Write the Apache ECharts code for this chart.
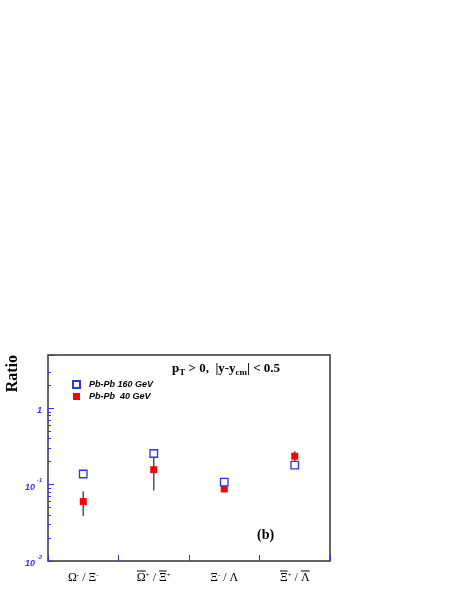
<!DOCTYPE html>
<html><head><meta charset="utf-8">
<script src="https://cdn.jsdelivr.net/npm/echarts@6/dist/echarts.min.js"></script>
<style>html,body{margin:0;padding:0;background:#fff}#c{width:468px;height:605px}</style>
</head><body><div id="c"></div>
<script>
// Category names: U+0305 = overline (antiparticle bar) on the preceding letter
const categories = ['Ω⁻ / Ξ⁻', 'Ω\u0305⁺ / Ξ\u0305⁺', 'Ξ⁻ / Λ', 'Ξ\u0305⁺ / Λ\u0305'];
const pb160 = [0.138, 0.256, 0.108, 0.180];
const pb40 = [0.060, 0.157, 0.088, 0.236];
const pb40Low = [0.039, 0.084, 0.083, 0.200];
const pb40High = [0.082, 0.230, 0.093, 0.275];
const yMin = 0.01, yMax = 5;
const minorTickValues = [0.02,0.03,0.04,0.05,0.06,0.07,0.08,0.09,0.2,0.3,0.4,0.5,0.6,0.7,0.8,0.9,2,3];

const BLUE = '#3030f0';
const LABEL_FONT = 12, SUP_FONT = 7, SERIF = 'Liberation Serif';

// Build rich-text category labels: superscripts raised, overlines drawn as thin bars on a line above
const mctx = document.createElement('canvas').getContext('2d');
function textWidth(t, size) { mctx.font = size + 'px "' + SERIF + '"'; return mctx.measureText(t).width; }
const labelRich = {
  g: {fontFamily: SERIF, fontSize: LABEL_FONT, color: '#000', lineHeight: 12, align: 'center'},
  s: {fontFamily: SERIF, fontSize: SUP_FONT, color: '#000', lineHeight: 12, verticalAlign: 'top', align: 'center'}
};
const labelText = {};
categories.forEach(function (cat, ci) {
  const units = [];
  Array.from(cat).forEach(function (c) {
    if (c === '\u0305') { units[units.length - 1].over = true; return; }
    if (c === '⁺' || c === '⁻') units.push({t: c === '⁺' ? '+' : '-', sup: true, over: false});
    else units.push({t: c, sup: false, over: false});
  });
  units.forEach(function (u) { u.w = textWidth(u.t, u.sup ? SUP_FONT : LABEL_FONT); });
  let line2 = '';
  let k = 0;
  while (k < units.length) {
    const sup = units[k].sup; let s = '';
    while (k < units.length && units[k].sup === sup) { s += units[k].t; k++; }
    line2 += '{' + (sup ? 's' : 'g') + '|' + s + '}';
  }
  let line1 = ''; k = 0; let n = 0;
  while (k < units.length) {
    const over = units[k].over; let w = 0;
    while (k < units.length && units[k].over === over) { w += units[k].w; k++; }
    const name = 'o' + ci + '_' + (n++);
    labelRich[name] = over
      ? {width: w, height: 1, lineHeight: 2, backgroundColor: '#000', align: 'center'}
      : {width: w, height: 1, lineHeight: 2, align: 'center'};
    line1 += '{' + name + '| }';
  }
  labelText[cat] = line1 + '\n' + line2;
});

const chart = echarts.init(document.getElementById('c'), null, {renderer: 'canvas'});
chart.setOption({
  animation: false,
  backgroundColor: '#fff',
  grid: {left: 48, right: 138, top: 355, bottom: 44, show: true, borderColor: '#333', borderWidth: 1.5, backgroundColor: 'transparent'},
  title: [
    {text: '{a|p}{s|T}{a| > 0,  |y-y}{s|cm}{a|| < 0.5}', left: 167, top: 356,
     textStyle: {rich: {
       a: {fontFamily: SERIF, fontWeight: 'bold', fontSize: 13, color: '#000', lineHeight: 16, verticalAlign: 'middle'},
       s: {fontFamily: SERIF, fontWeight: 'bold', fontSize: 9, color: '#000', lineHeight: 16, verticalAlign: 'bottom'}
     }}},
    {text: '(b)', left: 252, top: 522, textStyle: {fontFamily: SERIF, fontWeight: 'bold', fontSize: 14, lineHeight: 16, color: '#000'}}
  ],
  graphic: [{type: 'text', left: 5, top: 355, rotation: Math.PI / 2,
    style: {text: 'Ratio', font: 'bold 16px "Liberation Serif"', fill: '#000'}}],
  legend: {
    data: ['Pb-Pb 160 GeV', 'Pb-Pb  40 GeV'], orient: 'vertical', left: 67, top: 375,
    itemWidth: 7, itemHeight: 7, itemGap: 3,
    textStyle: {fontFamily: 'Liberation Sans', fontStyle: 'italic', fontWeight: 'bold', fontSize: 9, color: '#000', padding: [0, 0, 0, 4]}
  },
  xAxis: {
    type: 'category', data: categories, boundaryGap: true,
    axisLine: {show: false},
    axisTick: {show: true, interval: 0, inside: true, length: 6, lineStyle: {color: BLUE, width: 1}},
    axisLabel: {interval: 0, hideOverlap: false, margin: 9, formatter: function (v) { return labelText[v]; }, rich: labelRich},
    splitLine: {show: false}
  },
  yAxis: [
    {type: 'log', logBase: 10, min: yMin, max: yMax, position: 'left',
     axisLine: {show: false}, splitLine: {show: false}, minorTick: {show: false},
     axisTick: {show: true, inside: true, length: 6, lineStyle: {color: BLUE, width: 1}},
     axisLabel: {margin: 6,
       formatter: function (v) {
         const e = Math.round(Math.log10(v));
         if (Math.abs(v - Math.pow(10, e)) > 1e-6 * v) return '';
         if (e === 0) return '{b|1}';
         return '{b|10}{s| ' + e + '}';
       },
       rich: {
         b: {fontFamily: 'Liberation Sans', fontStyle: 'italic', fontWeight: 'bold', fontSize: 9, color: BLUE, lineHeight: 14, verticalAlign: 'bottom'},
         s: {fontFamily: 'Liberation Sans', fontStyle: 'italic', fontWeight: 'bold', fontSize: 6, color: BLUE, lineHeight: 14, verticalAlign: 'top'}
       }}},
    {type: 'log', logBase: 10, min: yMin, max: yMax, position: 'left',
     axisLine: {show: false}, splitLine: {show: false}, axisLabel: {show: false},
     axisTick: {show: true, inside: true, length: 3, customValues: minorTickValues, lineStyle: {color: BLUE, width: 1}}}
  ],
  series: [
    {type: 'custom', name: 'err', yAxisIndex: 0, z: 2,
     data: categories.map(function (c, i) { return [i, pb40Low[i], pb40High[i]]; }),
     encode: {x: 0, y: [1, 2]},
     renderItem: function (params, api) {
       const i = api.value(0);
       const lo = api.coord([i, api.value(1)]);
       const hi = api.coord([i, api.value(2)]);
       return {type: 'line', shape: {x1: lo[0], y1: lo[1], x2: hi[0], y2: hi[1]}, style: {stroke: '#555', lineWidth: 1.5}};
     }},
    {type: 'scatter', name: 'Pb-Pb  40 GeV', yAxisIndex: 0, z: 3, symbol: 'rect', symbolSize: 7,
     itemStyle: {color: '#ff0000', opacity: 1}, data: pb40},
    {type: 'scatter', name: 'Pb-Pb 160 GeV', yAxisIndex: 0, z: 4, symbol: 'rect', symbolSize: 7.5,
     itemStyle: {color: '#ffffff', borderColor: BLUE, borderWidth: 1.3, opacity: 1}, data: pb160}
  ]
});
</script></body></html>
